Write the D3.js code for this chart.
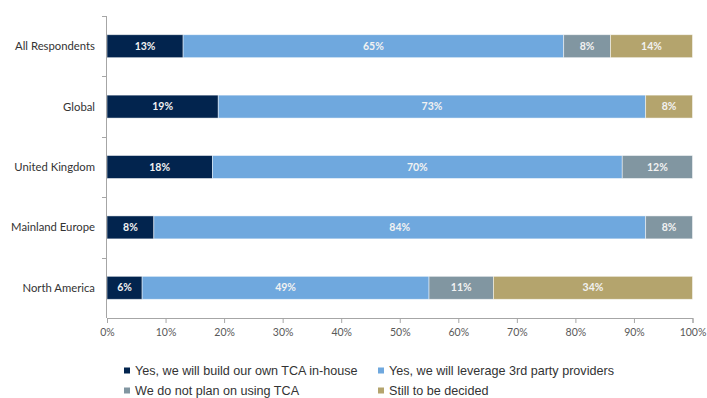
<!DOCTYPE html>
<html>
<head>
<meta charset="utf-8">
<script src="https://cdn.jsdelivr.net/npm/d3@7/dist/d3.min.js"></script>
<style>
  html, body { margin: 0; padding: 0; background: #fff; }
  svg { display: block; }
</style>
</head>
<body>
<svg id="chart" width="707" height="398"></svg>
<script>
// Survey regions, top to bottom
const categories = ["All Respondents", "Global", "United Kingdom", "Mainland Europe", "North America"];

// Share of respondents per answer (percent)
const buildInHouse   = [13, 19, 18, 8, 6];
const thirdParty     = [65, 73, 70, 84, 49];
const noTCA          = [8, 0, 12, 8, 11];
const stillUndecided = [14, 8, 0, 0, 34];

const seriesNames = [
  "Yes, we will build our own TCA in-house",
  "Yes, we will leverage 3rd party providers",
  "We do not plan on using TCA",
  "Still to be decided"
];
const seriesValues = [buildInHouse, thirdParty, noTCA, stillUndecided];
const seriesColors = ["#02244e", "#6fa8de", "#8196a1", "#b4a46d"];

const xTicks = [0, 10, 20, 30, 40, 50, 60, 70, 80, 90, 100];

const svg = d3.select("#chart");
const margin = { left: 107, top: 16 };

const x = d3.scaleLinear().domain([0, 100]).range([margin.left, 692.5]);
const y = d3.scaleBand().domain(categories).range([margin.top, 318]).paddingInner(0.62).paddingOuter(0.31);

// Build stacked rows
const rows = categories.map((c, i) => {
  const r = { cat: c };
  seriesNames.forEach((s, k) => r[s] = seriesValues[k][i]);
  return r;
});
const stack = d3.stack().keys(seriesNames)(rows);

const axisColor = "#a6a6a6";
const labelFont = "Lato, 'Open Sans', sans-serif";

// Bars with value labels
const g = svg.append("g");
stack.forEach((layer, k) => {
  const lg = g.append("g").attr("fill", seriesColors[k]);
  layer.forEach((d, i) => {
    const v = d[1] - d[0];
    if (v <= 0) return;
    lg.append("rect")
      .attr("x", x(d[0]))
      .attr("y", y(categories[i]))
      .attr("width", x(d[1]) - x(d[0]))
      .attr("height", y.bandwidth())
      .attr("stroke", "#ffffff")
      .attr("stroke-opacity", 0.6)
      .attr("stroke-width", 0.8);
    lg.append("text")
      .attr("x", (x(d[0]) + x(d[1])) / 2)
      .attr("y", y(categories[i]) + y.bandwidth() / 2)
      .attr("dy", "0.35em")
      .attr("text-anchor", "middle")
      .attr("fill", "#f2f2f2")
      .attr("font-family", labelFont)
      .attr("font-weight", "bold")
      .attr("font-size", "10.5px")
      .text(v + "%");
  });
});

// X axis
const xAxis = svg.append("g")
  .attr("transform", `translate(0,318)`)
  .call(d3.axisBottom(x).tickValues(xTicks).tickSize(5).tickPadding(6).tickFormat(d => d + "%"));
xAxis.select(".domain").attr("stroke", axisColor);
xAxis.selectAll(".tick line").attr("stroke", axisColor);
xAxis.selectAll(".tick text")
  .attr("fill", "#595959")
  .attr("font-family", labelFont)
  .attr("font-size", "10.5px");

// Y axis: line with ticks at category boundaries
const yAxisG = svg.append("g");
yAxisG.append("line")
  .attr("x1", margin.left - 0.5).attr("x2", margin.left - 0.5)
  .attr("y1", margin.top).attr("y2", 318)
  .attr("stroke", axisColor);
const step = y.step();
const boundaries = categories.map(c => y(c) - y.paddingOuter() * step);
boundaries.forEach(b => {
  yAxisG.append("line")
    .attr("x1", margin.left - 5).attr("x2", margin.left - 0.5)
    .attr("y1", Math.round(b) + 0.5).attr("y2", Math.round(b) + 0.5)
    .attr("stroke", axisColor);
});

// Category labels
svg.append("g").selectAll("text")
  .data(categories)
  .join("text")
  .attr("x", 95)
  .attr("y", d => y(d) + y.bandwidth() / 2)
  .attr("dy", "0.35em")
  .attr("text-anchor", "end")
  .attr("fill", "#333")
  .attr("font-family", labelFont)
  .attr("font-size", "11.3px")
  .text(d => d);

// Legend (two columns, two rows)
const legendPos = [
  { x: 124, y: 371 },
  { x: 378, y: 371 },
  { x: 124, y: 391 },
  { x: 378, y: 391 }
];
const legend = svg.append("g");
seriesNames.forEach((s, k) => {
  const p = legendPos[k];
  legend.append("rect")
    .attr("x", p.x).attr("y", p.y - 3.5)
    .attr("width", 6).attr("height", 6)
    .attr("fill", seriesColors[k]);
  legend.append("text")
    .attr("x", p.x + 11).attr("y", p.y)
    .attr("dy", "0.35em")
    .attr("fill", "#333")
    .attr("font-family", "'Liberation Sans', Arial, sans-serif")
    .attr("font-size", "12.6px")
    .text(s);
});
</script>
</body>
</html>
